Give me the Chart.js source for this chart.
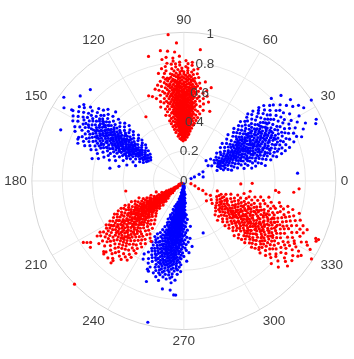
<!DOCTYPE html>
<html>
<head>
<meta charset="utf-8">
<script src="https://cdn.jsdelivr.net/npm/chart.js@4"></script>
<style>
  html, body { margin: 0; background: #fff; }
  #wrap { width: 354px; height: 359px; }
</style>
</head>
<body>
<div id="wrap"><canvas id="chart"></canvas></div>
<script>
// angle and radius ticks
const angleTicks = [0, 30, 60, 90, 120, 150, 180, 210, 240, 270, 300, 330];
const radiusTicks = [0, 0.2, 0.4, 0.6, 0.8, 1];
const radiusLabels = ["0", "0.2", "0.4", "0.6", "0.8", "1"];

// points, each row is [radius, angle, angle, ...]
const blue30 = [
  [.05,19],[.075,21],[.11,24],[.13,12],[.14,26],[.19,33],[.2,43],[.21,29],[.23,40,18],[.236,31],[.243,24,35],[.252,22,28],
  [.258,19,33,26],[.266,30,23,37],[.271,16,27],[.279,34,21,29],[.286,25,41,18],[.293,31,27,22],[.301,36,15,28],
  [.308,24,33,20,39],[.314,29,26],[.322,13,35,22,31],[.329,27,18,43,24],[.335,32,29,37],[.343,21,26,16],[.351,34,30,40,24],
  [.357,19,28,45,35],[.364,25,32,14],[.371,38,22,29,27],[.378,33,18,42,30],[.384,26,36,21],[.392,31,16,24,39,28],
  [.399,34,45,20,29],[.405,26,37,12,32],[.413,23,30,41,19],[.42,35,28,16,33],[.426,25,38,47,22,31],[.434,29,20,36,14,34],
  [.441,27,43,24,32,18],[.447,30,39,22,35],[.455,11,26,33,17,41,28],[.462,37,24,31,45,20],[.468,29,35,15,26,39],
  [.476,22,33,43,28,19,36],[.483,31,25,12,38,47],[.489,27,34,21,41,16],[.497,30,24,36,18,44,33],[.504,26,39,14,29,22],
  [.511,35,31,20,42,27],[.518,37,24,17,33,46,29],[.524,22,40,28,13,35],[.532,31,19,26,44,37],[.539,34,23,16,29,41],
  [.546,27,36,21,47,32,11],[.553,39,25,30,18,43],[.56,34,22,28,15,37],[.568,26,41,31,20,45],[.574,35,23,29,17,39],
  [.582,33,27,44,19,37],[.589,25,31,14,41,22],[.596,36,29,18,46,34],[.603,27,39,23,32,20],[.611,43,30,16,35,25],
  [.617,21,38,28,33,47],[.625,26,41,18,31,36],[.632,23,35,45,29,15],[.639,38,20,27,32],[.647,42,25,34,18,30],
  [.654,22,37,28,46,33],[.661,19,40,26,31],[.669,35,23,43,29,16],[.676,38,27,21,32],[.683,44,25,35,19],[.691,30,41,23,37],
  [.698,27,33,17,45],[.706,39,22,29,36],[.714,25,42,31,20],[.722,35,27,38],[.731,23,44,30,18],[.74,33,26,40],[.75,4,36,28,22],
  [.76,31,42,25],[.77,38,20,34],[.78,27,41,32],[.79,24,37,29],[.8,35,44,22],[.815,30,26,39],[.83,33,21],[.845,37,28],
  [.86,24,42],[.875,35,30],[.89,38,26],[.91,34],[.93,32],[.95,24],[.965,25.5],[1,33]
];
const blue30Core = [
  [.348,27,33],[.375,24,31],[.402,28,22,36],[.418,32,25],[.445,20,29,37],[.472,24,33,27],[.492,35,22,30],[.515,19,27,38,32],
  [.535,24,34,21],[.55,29,37,26],[.565,33,23,19],[.585,30,36,24],[.6,21,33,28],[.62,25,37,30],[.645,22,33,27],[.665,30,25,36]
];
const red330 = [
  [.05,339],[.08,336],[.11,332],[.14,333],[.17,329],[.2,331,318],[.22,325],[.23,343],[.24,321,334],[.252,330,337],
  [.261,326,340],[.268,333,322],[.276,319,329,336],[.284,325,338,331],[.291,316,328,342],[.299,323,334,320],
  [.307,330,312,337,326],[.315,319,335,323],[.322,328,344,332],[.33,314,325,339,321],[.337,331,317,327],[.345,336,310,322],
  [.352,329,341,326,319],[.36,333,315,338,324],[.367,320,345,330,327],[.375,335,313,323,357],[.382,328,340,318,332],
  [.39,325,337,321,343],[.397,330,316,334,327],[.405,322,339,348,312,331],[.412,326,319,336,324],[.42,333,341,315,329],
  [.427,321,337,328,344,318],[.435,332,325,313,339],[.442,320,335,327,346,351],[.45,330,316,341,323,358],
  [.457,334,326,319,338,329],[.465,322,344,314,331,336],[.472,327,318,340,324,333],[.48,316,330,347,321,337],
  [.487,325,335,319,342,328],[.495,332,312,323,339,327],[.503,318,336,329,345,321],[.51,326,333,315,340,324],
  [.517,331,320,338,328,348],[.525,323,313,335,327,343],[.532,330,319,337,325,341],[.54,334,317,322,346,328],
  [.547,326,339,331,314,320],[.555,336,323,329,344,318],[.562,327,333,316,340,321],[.57,325,338,331,349,319],
  [.577,322,335,328,343,314],[.585,330,318,337,325],[.592,333,320,346,327,340],[.6,323,329,316,336,342],
  [.607,331,338,319,326,354],[.615,334,322,344,328,317],[.622,325,340,332,320],[.63,336,327,315,343,353],
  [.637,330,323,339,318,334],[.645,326,347,321,337,329],[.652,333,316,341,324],[.66,328,335,320,345,331],
  [.667,323,338,326,342,318],[.675,332,329,336,321,317],[.682,325,344,334,319],[.69,339,328,323,331],
  [.697,335,321,341,327,316],[.705,330,337,325,346],[.712,323,333,319,340],[.72,328,335,326,343],[.727,321,338,331,354],
  [.735,334,324,317,341],[.742,329,336,322,345],[.75,326,339,332,319],[.76,335,323,356,342],[.77,328,337,318],
  [.78,331,325,340,321],[.79,334,327,344,320],[.8,329,338,323,316],[.81,332,341,326],[.82,319,335,328],
  [.83,337,324,331],[.84,322,339,330],[.85,327,334,317],[.86,336,321,329],[.875,325,332,338],[.89,328,320,323],[.905,333,326],
  [.92,327,332],[.95,336,331],[.96,335],[.97,336],[.99,328]
];
const red330Core = [
  [.378,326,333],[.402,329,324],[.425,331,336,325],[.448,328,334,322],[.468,337,330,326],[.49,323,333,329],[.512,336,327,331],
  [.534,325,338,321],[.552,333,328,323],[.572,330,336,326],[.59,323,332,338],[.612,327,335,330],[.635,324,332,337],[.655,329,322,335],[.68,327,333]
];
const blue150 = [
  [.26,147],[.27,144,150],[.278,152,146],[.286,148,141],[.294,155,150,144],[.303,147,152],[.31,139,149,145],[.318,156,143,151],
  [.326,147,141,153],[.334,149,162,138,145],[.342,151,143,147],[.35,136,155,149,146],[.358,152,141,148,159],[.366,145,150,139],
  [.374,154,147,143,137],[.382,149,157,145,151],[.39,141,153,147,135,164],[.398,150,144,155,148],[.406,142,152,138,146,158],
  [.414,149,156,144,136,151],[.422,147,161,141,153,145],[.43,150,134,155,143,148],[.438,146,152,139,157,167],
  [.446,149,144,153,141,151],[.454,155,137,147,159,143],[.462,150,145,152,140],[.47,148,163,143,155,146,135],
  [.478,153,141,150,157,145],[.486,147,138,152,144,160,149],[.494,155,142,170,148,151,136],[.502,145,153,150,140,157],
  [.51,147,164,143,152,149],[.518,155,139,146,151,159,134],[.526,148,153,142,145,161],[.534,150,156,137,147,144],
  [.542,152,141,158,149,146],[.55,154,143,163,148,135],[.558,146,151,139,156,149],[.566,153,144,147,160,141],
  [.574,150,157,137,145,152],[.582,148,155,142,146,165],[.59,151,140,158,144,149],[.598,153,147,136,155,162],
  [.606,145,150,142,157,148],[.614,152,139,146,160,154],[.622,149,143,156,166,147],[.63,151,141,145,158,153],
  [.638,148,155,137,144,150],[.646,152,142,146,161,134],[.654,149,156,144,140,153],[.662,147,151,159,143],
  [.67,154,138,146,150,145],[.678,148,157,142,152],[.686,144,150,155,140],[.694,147,153,160,143,136],[.702,150,145,156,141],
  [.712,152,148,138,158],[.722,146,154,143,150],[.732,149,156,141,145],[.742,151,147,160,139],[.752,153,144,149,157,158],
  [.765,146,150,142],[.775,152,148,144],[.79,147,155,141],[.805,150,145,153],[.82,148,143],[.835,146,151,142],[.85,149,144],
  [.87,135,147],[.88,147,157],[.89,140],[.93,148],[.97,144.5]
];
const blue150Core = [
  [.352,148,144],[.376,151,146],[.402,147,153,143],[.426,150,145,155],[.45,147,152,142],[.472,150,144,154],[.492,146,153,141],
  [.515,149,144,155],[.532,147,152,142],[.552,150,145,156],[.575,147,143,153],[.595,149,145,156],[.618,150,143,147],[.642,148,153,145],[.668,149,143]
];
const red90 = [
  [.27,91],[.278,88,93],[.287,95,90],[.295,86,92,89],[.303,97,91,88],[.31,94,85,90],[.317,88,96,92,84],[.324,90,87,94,93],
  [.331,99,89,85,92],[.338,87,95,91,83,93],[.345,89,97,86,92,94],[.352,84,90,100,88,93],[.359,86,95,91,82,89],
  [.366,92,98,87,94,85,90],[.373,84,96,89,101,93],[.38,91,81,87,95,99,86],[.387,93,83,90,88,97,94],[.394,85,92,102,80,89,96],
  [.401,87,94,91,84,98,90],[.408,86,100,93,82,95,89],[.415,92,88,79,96,85,103,91],[.422,83,94,90,98,87,93],
  [.429,89,86,101,95,81,92,84],[.436,96,91,88,99,85,93,78,90],[.443,94,87,83,97,92,89,86],[.45,80,95,90,102,84,93,88],
  [.457,91,86,98,94,82,105,89,96],[.464,85,92,100,88,93,77,87,95],[.471,90,83,97,86,94,89,99,91],[.478,79,93,87,103,96,84,92],
  [.485,88,95,91,81,98,85,90,94],[.492,86,101,93,89,83,96,92,75],[.499,97,84,91,88,94,104,87,120,70],[.506,90,82,95,86,99,92,93,85],
  [.513,78,89,96,87,102,91,84,94],[.52,93,85,98,90,81,107,88,95],[.527,86,92,100,83,96,89,94,91],[.534,76,88,97,84,93,101,87,90],
  [.541,95,82,91,99,85,92,89,104],[.548,87,94,79,96,90,86,102,93],[.555,84,98,91,88,73,95,89,106],[.562,92,85,100,87,96,81,94,90],
  [.569,89,97,83,93,86,103,91,77],[.576,95,88,80,99,92,85,94,90],[.583,87,101,91,84,96,89,108,93],[.59,75,93,86,98,82,90,95,88],
  [.597,91,85,100,94,89,105,83,97],[.604,87,92,78,96,86,102,90,110],[.611,94,84,99,91,88,93,81,96],[.618,85,97,90,103,87,95,112],
  [.625,92,83,89,100,94,86,76,96],[.632,91,88,98,85,93,105,80,87],[.639,95,90,84,101,92,97],[.646,86,89,99,93,82,107,94],
  [.653,91,96,85,88,74,103,90],[.66,87,94,98,83,92,100],[.667,90,81,95,86,93,105,89],[.674,97,88,92,84,101,94],[.681,91,86,99,78,95],
  [.688,93,89,87,103,85,96],[.695,90,98,84,92,100],[.703,86,94,91,82,97],[.711,89,93,101,87,95],[.719,85,92,96,90],[.727,97,88,94,83],
  [.735,90,100,86,92],[.743,95,88,103,91],[.751,93,85,99],[.76,88,96,91,83],[.77,94,89,101],[.78,99,86,92],[.79,96,88,94],
  [.8,86,92,98],[.81,89,95],[.83,95,100],[.84,92,98],[.87,94,105.5],[.88,97],[.89,83,100],[.93,93],[.99,96]
];
const red90Core = [
  [.36,93,87],[.39,91,86],[.41,96,88,92],[.432,87,94,90],[.452,97,91,85],[.47,92,88,96],[.49,85,94,90],[.51,98,88,92],[.53,85,95,90],
  [.545,93,88,97],[.56,84,91,95],[.58,98,86,92],[.6,88,94,83],[.615,97,90,86],[.635,94,83,89],[.655,98,87,93],[.68,88,96,85],[.7,93,88,99]
];
const red210 = [
  [.02,225],[.03,220],[.04,216,228],[.05,222],[.06,219,226],[.07,217,224],[.08,221,215],[.09,218,225],[.1,213,220,223],
  [.108,216,227,219],[.116,222,212,218],[.124,215,225,220],[.132,218,210,222,214],[.14,223,217,226,213],[.148,220,211,224],
  [.156,215,218,228,222],[.164,213,221,208,217],[.172,224,219,226,214],[.18,212,220,216,229,222],[.188,218,209,225,214],
  [.196,221,216,202,227,219],[.204,213,223,218,210,225],[.212,216,221,230,214,219],[.22,208,224,217,212,222],
  [.228,220,214,227,218,211],[.236,216,204,222,225,213],[.244,219,209,215,223,229],[.252,221,212,226,217,207],
  [.26,214,224,219,210,222],[.268,216,228,212,220,205],[.276,223,218,209,214,225],[.284,207,221,216,230,219,211],
  [.292,213,226,218,222,204],[.3,215,209,224,220,232],[.308,217,212,227,206,221],[.316,201,214,223,219,210,229],
  [.324,216,225,208,220,212,234],[.332,222,205,218,214,227],[.34,210,226,216,231,220,213],[.348,203,223,218,208,225,236],
  [.356,215,220,211,229,206,222],[.364,226,213,218,233,209],[.372,202,220,216,224,211,230],[.38,214,227,207,222,218,237],
  [.388,190,212,225,219,216,232],[.396,209,222,204,228,214,220],[.404,217,235,211,224,206,226],[.412,221,213,230,208,218],
  [.42,225,203,216,233,211,238],[.428,220,228,207,214,223],[.436,212,226,236,218,205,222],[.444,216,230,209,221,240],
  [.452,224,214,204,227,219,232],[.46,211,234,218,207,225,242],[.468,222,215,229,209,237],[.476,218,226,205,213,232],
  [.484,224,210,220,235,216,228],[.492,207,222,230,214,239],[.5,219,226,212,233,209,217],[.508,223,215,228,236,206],
  [.516,211,220,231,218,225],[.524,214,208,227,222,238],[.532,217,234,225,212,229],[.54,220,210,224,215,232],
  [.548,227,213,218,236,222],[.556,209,225,216,230,220],[.564,223,212,233,218,228],[.572,215,226,221,211,235],
  [.58,219,229,213,224,237],[.59,216,222,232,227,210],[.6,214,225,219,230,212],[.61,221,234,217,228],[.62,215,226,223,236],
  [.63,213,220,231,218],[.64,225,216,228,233],[.65,219,222,212,235],[.66,227,214,230],[.67,217,224,232],[.68,220,226,213],
  [.7,217,228,223],[.71,222,229],[.72,223,226],[.73,229],[.74,214],[.76,213,216],[.78,212],[1,224]
];
const red210Core = [
  [.2,215,223],[.23,219,213],[.255,216,223],[.28,220,213,225],[.305,218,222,214],[.33,216,224,212],[.355,219,214,225],[.38,221,215,211],
  [.405,219,226,213],[.43,217,222,211],[.455,216,222,228],[.48,220,214,226],[.505,222,216,212],[.53,220,226,215],[.555,218,224,213]
];
const blue270 = [
  [.02,265],[.03,270,258],[.04,274,262],[.05,266,272],[.06,260,268],[.07,264,271],[.08,266,258,272],[.09,262,269,275],[.1,265,260,271],
  [.108,263,268,258],[.116,266,261,273,270],[.124,264,256,268,260],[.132,270,262,266,272],[.14,258,265,268,262],[.148,263,270,255,266,274],
  [.156,260,267,264,271,257],[.164,265,253,262,269,268],[.172,259,266,263,272,256],[.18,261,268,265,251,270,258],[.188,264,254,267,262,260],
  [.196,269,257,265,272,263,261],[.204,259,266,250,268,263,255],[.212,262,270,265,258,267,253],[.22,256,264,260,269,272,262],
  [.228,266,251,263,259,268,257,274],[.236,261,265,254,267,270,259],[.244,263,256,249,268,261,272,265],[.252,258,266,260,253,270,264],
  [.26,262,268,255,265,275,259,250],[.268,257,263,269,261,266,252],[.276,260,265,254,271,248,263,258],[.284,267,256,262,273,259,264],
  [.292,251,265,260,268,254,262,257],[.3,263,270,258,266,249,261,256],[.308,253,264,260,272,267,255,278],[.316,262,257,268,259,265,250],
  [.324,261,255,270,263,252,266,258,264],[.332,256,267,260,274,248,262,254],[.34,265,259,269,253,263,257,261],[.348,251,264,272,258,266,255,260],
  [.356,262,247,268,256,263,253,259,265],[.364,267,260,250,271,257,264,254],[.372,290,261,255,266,252,269,259,263],[.38,246,262,257,273,253,265,260],
  [.388,264,249,259,268,256,262,276,251],[.396,254,267,260,257,265,244,271,263],[.404,261,252,269,258,264,248,256,266],[.412,255,263,259,274,250,267,262],
  [.42,257,243,265,253,270,260,246,264],[.428,268,256,262,251,259,272,254],[.436,260,266,249,257,263,245,261],[.444,253,269,258,264,255,277,248],
  [.452,261,251,266,257,259,271,246,263],[.46,255,264,250,268,260,253,243],[.468,262,257,272,248,265,256,259],[.476,254,267,261,245,252,263,258],
  [.484,260,249,269,256,264,251,274],[.492,257,263,253,266,247,259,262],[.5,255,268,261,250,264,245,258],[.508,252,260,256,270,263,248],
  [.516,258,265,254,262,251,246,267],[.524,261,256,268,249,259,264],[.532,253,263,258,244,266,250],[.54,260,255,247,265,262,272],
  [.548,257,252,267,259,263,250],[.556,242,261,254,265,248,258],[.564,256,263,251,260,268],[.572,253,259,246,265,257,262],
  [.58,261,255,249,267,258],[.59,243,256,263,252,260,265],[.6,258,254,262,247,266],[.61,260,256,264,252,268],[.62,255,261,249,258],
  [.63,263,257,253,266],[.64,259,255,261,248],[.65,252,263,256,249],[.66,258,262],[.67,254,260,265],[.69,256,263],[.72,250],[.74,259,263],[.77,265,266],[.98,256]
];
const blue270Core = [
  [.2,262,267],[.225,258,265],[.25,262,256,268],[.275,266,260,255],[.3,259,264,254],[.325,262,256,267],[.35,258,264,253],[.375,261,255,266],
  [.4,259,253,263],[.425,256,262,266],[.45,258,252,264],[.475,260,255,266],[.5,253,261,257],[.525,259,254,263],[.55,256,261,252],[.575,259,254]
];

const toXY = (rows) => rows.flatMap(([r, ...angles]) => angles.map((a) => ({
  x: r * Math.cos(a * Math.PI / 180),
  y: r * Math.sin(a * Math.PI / 180),
})));

const polarGrid = {
  id: "polarGrid",
  beforeDatasetsDraw(chart) {
    const { ctx, scales: { x, y } } = chart;
    const x0 = x.getPixelForValue(0);
    const y0 = y.getPixelForValue(0);
    ctx.save();
    ctx.lineWidth = 1;
    ctx.strokeStyle = "#e8e8e8";
    angleTicks.forEach((a) => {
      const t = a * Math.PI / 180;
      ctx.beginPath();
      ctx.moveTo(x0, y0);
      ctx.lineTo(x.getPixelForValue(Math.cos(t)), y.getPixelForValue(Math.sin(t)));
      ctx.stroke();
    });
    radiusTicks.slice(1).forEach((r) => {
      ctx.strokeStyle = r === 1 ? "#d6d6d6" : "#e8e8e8";
      ctx.beginPath();
      ctx.ellipse(x0, y0, x.getPixelForValue(r) - x0, y0 - y.getPixelForValue(r), 0, 0, Math.PI * 2);
      ctx.stroke();
    });
    ctx.restore();
  },
  afterDatasetsDraw(chart) {
    const { ctx, scales: { x, y } } = chart;
    ctx.save();
    ctx.fillStyle = "#404040";
    ctx.font = '13.5px "Liberation Sans", Arial, sans-serif';
    ctx.textBaseline = "middle";
    angleTicks.forEach((a) => {
      const t = a * Math.PI / 180;
      const c = Math.cos(t);
      const s = Math.sin(t);
      const px = x.getPixelForValue(c);
      const py = y.getPixelForValue(s);
      ctx.textAlign = Math.abs(c) < 0.01 ? "center" : c > 0 ? "left" : "right";
      ctx.fillText(String(a),
        px + Math.sign(Math.round(c * 100)) * Math.min(5, 6 * Math.abs(c)),
        py - Math.sign(Math.round(s * 100)) * Math.min(12, 20 * Math.abs(s)));
    });
    // radius labels run along the 80 degree spoke
    ctx.textAlign = "center";
    const t80 = 80 * Math.PI / 180;
    radiusTicks.forEach((r, i) => {
      ctx.fillText(radiusLabels[i],
        x.getPixelForValue(r * Math.cos(t80)),
        y.getPixelForValue(r * Math.sin(t80)));
    });
    ctx.restore();
  },
};

new Chart(document.getElementById("chart"), {
  type: "scatter",
  data: {
    datasets: [
      { label: "red", data: [red90, red90Core, red210, red210Core, red330, red330Core].flatMap(toXY), backgroundColor: "#ff0000" },
      { label: "blue", data: [blue30, blue30Core, blue150, blue150Core, blue270, blue270Core].flatMap(toXY), backgroundColor: "#0000ff" },
    ],
  },
  options: {
    responsive: true,
    maintainAspectRatio: false,
    animation: false,
    events: [],
    layout: { padding: 0 },
    elements: { point: { radius: 1.6, borderWidth: 0 } },
    plugins: { legend: { display: false }, tooltip: { enabled: false } },
    scales: {
      x: { type: "linear", display: false, min: -1.1833, max: 1.0932 },
      y: { type: "linear", display: false, min: -1.1711, max: 1.1908 },
    },
  },
  plugins: [polarGrid],
});
</script>
</body>
</html>
